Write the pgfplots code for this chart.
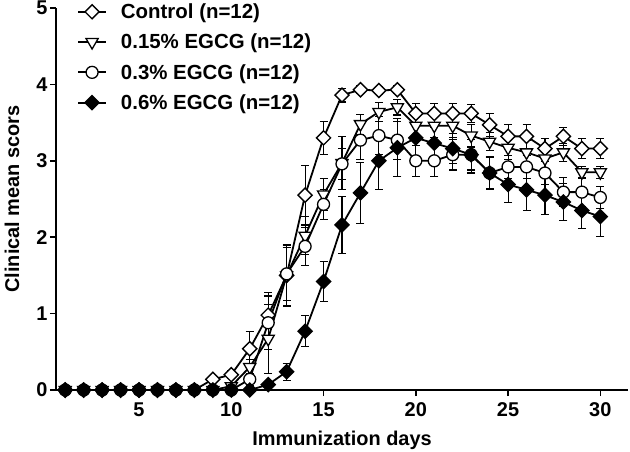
\documentclass[border=0pt]{standalone}
\usepackage{pgfplots}
\pgfplotsset{compat=1.18}
\usepackage{pgfplotstable}
\usepackage{fontspec}
\setmainfont{Liberation Sans}

\pgfplotstableread{
x y e
1 0 0
2 0 0
3 0 0
4 0 0
5 0 0
6 0 0
7 0 0
8 0 0
9 0.14 0.03
10 0.20 0.05
11 0.54 0.23
12 0.98 0.30
13 1.50 0.39
14 2.55 0.39
15 3.30 0.22
16 3.86 0.09
17 3.93 0.05
18 3.92 0.05
19 3.93 0.05
20 3.62 0.13
21 3.62 0.13
22 3.62 0.13
23 3.62 0.12
24 3.47 0.15
25 3.32 0.16
26 3.32 0.16
27 3.16 0.13
28 3.32 0.12
29 3.16 0.13
30 3.16 0.13
}\ctrl

\pgfplotstableread{
x y e
1 0 0
2 0 0
3 0 0
4 0 0
5 0 0
6 0 0
7 0 0
8 0 0
9 0 0
10 0.05 0.03
11 0.30 0.10
12 0.67 0.45
13 1.50 0.40
14 2.02 0.25
15 2.56 0.21
16 2.97 0.35
17 3.48 0.13
18 3.64 0.12
19 3.70 0.10
20 3.46 0.15
21 3.46 0.15
22 3.46 0.15
23 3.33 0.15
24 3.25 0.12
25 3.17 0.15
26 3.11 0.15
27 3.03 0.13
28 3.11 0.12
29 2.85 0.08
30 2.85 0.08
}\lowdose

\pgfplotstableread{
x y e
1 0 0
2 0 0
3 0 0
4 0 0
5 0 0
6 0 0
7 0 0
8 0 0
9 0 0
10 0 0
11 0.14 0.08
12 0.88 0.35
13 1.52 0.35
14 1.88 0.25
15 2.43 0.20
16 2.96 0.20
17 3.27 0.25
18 3.33 0.25
19 3.27 0.25
20 3.00 0.20
21 3.00 0.20
22 3.08 0.20
23 3.08 0.20
24 2.84 0.20
25 2.92 0.15
26 2.92 0.15
27 2.84 0.15
28 2.59 0.19
29 2.59 0.19
30 2.52 0.14
}\middose

\pgfplotstableread{
x y e
1 0 0
2 0 0
3 0 0
4 0 0
5 0 0
6 0 0
7 0 0
8 0 0
9 0 0
10 0 0
11 0 0
12 0.07 0.04
13 0.24 0.11
14 0.77 0.20
15 1.42 0.26
16 2.16 0.37
17 2.58 0.40
18 3.00 0.38
19 3.17 0.38
20 3.30 0.28
21 3.23 0.20
22 3.16 0.20
23 3.08 0.24
24 2.84 0.22
25 2.69 0.23
26 2.62 0.27
27 2.55 0.25
28 2.46 0.24
29 2.35 0.24
30 2.27 0.26
}\highdose

\begin{document}
\begin{tikzpicture}
\begin{axis}[
  at={(0,0)}, anchor=south west,
  scale only axis, width=572bp, height=382bp,
  xmin=0.5, xmax=31.5, ymin=0, ymax=5,
  clip=false,
  axis lines=left,
  axis line style={-, line width=1.8bp},
  xtick={5,10,...,30}, ytick={0,1,...,5},
  tick align=outside, major tick length=6bp,
  tick style={line width=1.5bp, black},
  /pgf/number format/assume math mode=true,
  ticklabel style={font=\bfseries\fontsize{20}{20}\selectfont},
  xticklabel style={yshift=-3bp},
  yticklabel style={xshift=1bp},
  label style={font=\bfseries\fontsize{20}{20}\selectfont},
  xlabel={Immunization days},
  ylabel={Clinical mean scors},
  xlabel style={at={(axis description cs:0.5,-0.144)}, anchor=base},
  ylabel style={at={(axis description cs:-0.077,0.5)}, anchor=center},
  every axis plot/.append style={black, line width=1.8bp},
  legend cell align=left,
  legend style={at={(axis description cs:0.0367,1.012)}, anchor=north west,
    draw=none, fill=none, inner sep=0pt, row sep=14bp, column sep=14bp,
    font=\bfseries\fontsize{20.5}{20.5}\selectfont,
    nodes={inner sep=0bp}},
  legend image code/.code={\draw[mark repeat=2,mark phase=2,#1] plot coordinates {(0bp,0bp) (14bp,0bp) (28bp,0bp)};},
  error bars/y dir=both, error bars/y explicit,
  error bars/error bar style={line width=1.1bp, black, solid},
  error bars/error mark options={rotate=90, mark size=4bp, line width=1.1bp, black},
]
\addplot[mark=square*, mark size=5bp, mark options={rotate=45, fill=white, line width=1.4bp}]
  table[x=x, y=y, y error=e] {\ctrl};
\addlegendentry{Control (n=12)}
\addplot[mark=triangle*, mark size=7bp, mark options={rotate=180, fill=white, line width=1.3bp}]
  table[x=x, y=y, y error=e] {\lowdose};
\addlegendentry{0.15\% EGCG (n=12)}
\addplot[mark=*, mark size=6bp, mark options={fill=white, line width=1.3bp}]
  table[x=x, y=y, y error=e] {\middose};
\addlegendentry{0.3\% EGCG (n=12)}
\addplot[mark=square*, mark size=5bp, mark options={rotate=45, fill=black, line width=1.3bp}]
  table[x=x, y=y, y error=e] {\highdose};
\addlegendentry{0.6\% EGCG (n=12)}
\end{axis}
\pgfresetboundingbox
\useasboundingbox (-56bp,-62bp) rectangle (574bp,390bp);
\end{tikzpicture}
\end{document}
